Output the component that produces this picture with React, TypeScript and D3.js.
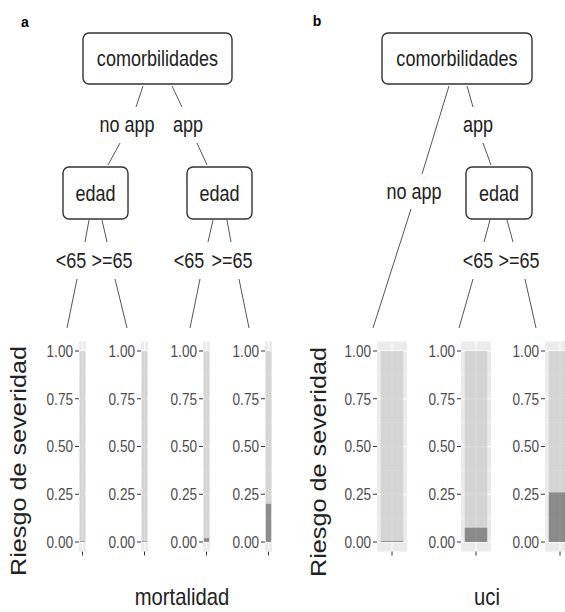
import React from "react";
import * as d3 from "d3";

// tick values shared by every facet
const yTicks = [0, 0.25, 0.5, 0.75, 1];
const yTickLabels = ["0.00", "0.25", "0.50", "0.75", "1.00"];

// terminal nodes and share of severe cases (dark part of the bar)
const mortalidadNodes = ["no app & <65", "no app & >=65", "app & <65", "app & >=65"];
const mortalidadRisk = [0.004, 0.004, 0.02, 0.2];
const uciNodes = ["no app", "app & <65", "app & >=65"];
const uciRisk = [0.005, 0.075, 0.26];

const SANS = "'Liberation Sans', Arial, sans-serif";
const SQUEEZE = 0.82; // no narrow face installed, so squeeze the regular one

// tree layout (boxes, edge labels, edge segments) for each panel
const treeA = {
  boxes: [
    { label: "comorbilidades", x: 83, y: 33, w: 149, h: 51 },
    { label: "edad", x: 63, y: 167, w: 65, h: 52 },
    { label: "edad", x: 187, y: 167, w: 65, h: 52 },
  ],
  labels: [
    { text: "no app", x: 127, y: 124 },
    { text: "app", x: 188, y: 124 },
    { text: "<65", x: 71, y: 260 },
    { text: ">=65", x: 112, y: 260 },
    { text: "<65", x: 189, y: 260 },
    { text: ">=65", x: 232, y: 260 },
  ],
  segs: [
    [143, 86, 136, 107], [172, 86, 182, 107],
    [120, 143, 108, 165], [197, 143, 207, 165],
    [89, 220, 85, 242], [102, 220, 107, 242],
    [213, 220, 208, 242], [227, 220, 231, 242],
    [77, 279, 67, 328], [115, 279, 127, 328],
    [200, 279, 190, 328], [239, 279, 249, 328],
  ],
};

const treeB = {
  boxes: [
    { label: "comorbilidades", x: 382, y: 33, w: 150, h: 51 },
    { label: "edad", x: 466, y: 167, w: 66, h: 52 },
  ],
  labels: [
    { text: "no app", x: 414, y: 191 },
    { text: "app", x: 478, y: 124 },
    { text: "<65", x: 478, y: 260 },
    { text: ">=65", x: 519, y: 260 },
  ],
  segs: [
    [449, 86, 422, 174], [411, 209, 373, 328],
    [467, 86, 473, 107], [483, 143, 491, 165],
    [490, 220, 484, 242], [507, 220, 513, 242],
    [473, 279, 459, 328], [525, 279, 536, 328],
  ],
};

const y = d3.scaleLinear().domain([0, 1]).range([542, 351]);

function NText({ x, y, children, size = 22, anchor = "middle", fill = "#222", sx = SQUEEZE }:
  { x: number; y: number; children: string; size?: number; anchor?: string; fill?: string; sx?: number }) {
  return (
    <text transform={`translate(${x},${y}) scale(${sx},1)`} dy="0.36em" textAnchor={anchor}
      fontFamily={SANS} fontSize={size} fill={fill}>{children}</text>
  );
}

function Tree({ tree }: { tree: typeof treeA }) {
  return (
    <g>
      {tree.segs.map((s, i) => (
        <line key={i} x1={s[0]} y1={s[1]} x2={s[2]} y2={s[3]} stroke="#555" strokeWidth={1} />
      ))}
      {tree.boxes.map((b, i) => (
        <g key={i}>
          <rect x={b.x} y={b.y} width={b.w} height={b.h} rx={6} fill="#fff" stroke="#333" strokeWidth={1.4} />
          <NText x={b.x + b.w / 2} y={b.y + b.h / 2}>{b.label}</NText>
        </g>
      ))}
      {tree.labels.map((l, i) => (
        <NText key={i} x={l.x} y={l.y}>{l.text}</NText>
      ))}
    </g>
  );
}

function Facets({ nodes, risk, first, step, panelW }:
  { nodes: string[]; risk: number[]; first: number; step: number; panelW: number }) {
  const px = d3.scaleLinear().domain([0, 1]).range([first, first + step]);
  const yTop = y(1.05);
  const yBot = y(-0.05);
  const minor = [0.125, 0.375, 0.625, 0.875];
  return (
    <g>
      {nodes.map((n, i) => {
        const x0 = px(i);
        // discrete x scale: one level, 0.6 expansion each side
        const xb = d3.scaleLinear().domain([0.4, 1.6]).range([x0, x0 + panelW]);
        const bx = xb(0.55);
        const bw = xb(1.45) - xb(0.55);
        return (
          <g key={n}>
            <rect x={x0} y={yTop} width={panelW} height={yBot - yTop} fill="#ebebeb" />
            {minor.map((t) => (
              <line key={t} x1={x0} x2={x0 + panelW} y1={y(t)} y2={y(t)} stroke="#fff" strokeWidth={0.5} />
            ))}
            {yTicks.map((t) => (
              <line key={t} x1={x0} x2={x0 + panelW} y1={y(t)} y2={y(t)} stroke="#fff" strokeWidth={1} />
            ))}
            <line x1={xb(1)} x2={xb(1)} y1={yTop} y2={yBot} stroke="#fff" strokeWidth={1} />
            <rect x={bx} y={y(1)} width={bw} height={y(risk[i]) - y(1)} fill="#c4c4c4" opacity={0.6} />
            <rect x={bx} y={y(risk[i])} width={bw} height={y(0) - y(risk[i])} fill="#4a4a4a" opacity={0.6} />
            {yTicks.map((t, k) => (
              <g key={t}>
                <line x1={x0 - 4} x2={x0} y1={y(t)} y2={y(t)} stroke="#333" strokeWidth={1} />
                <NText x={x0 - 6} y={y(t)} size={16} anchor="end" fill="#4d4d4d" sx={0.85}>{yTickLabels[k]}</NText>
              </g>
            ))}
            <line x1={xb(1)} x2={xb(1)} y1={yBot} y2={yBot + 4} stroke="#333" strokeWidth={1} />
          </g>
        );
      })}
    </g>
  );
}

export default function App() {
  return (
    <svg width={565} height={612} style={{ position: "absolute", left: 0, top: 0, background: "#fff" }}>
      <text x={25} y={27} textAnchor="middle" fontFamily={SANS} fontWeight="bold" fontSize={14} fill="#000">a</text>
      <text x={317} y={26} textAnchor="middle" fontFamily={SANS} fontWeight="bold" fontSize={14} fill="#000">b</text>

      <Tree tree={treeA} />
      <Tree tree={treeB} />

      <Facets nodes={mortalidadNodes} risk={mortalidadRisk} first={79} step={62} panelW={7} />
      <Facets nodes={uciNodes} risk={uciRisk} first={377} step={84} panelW={30} />

      <text transform="translate(18,461) rotate(-90)" dy="0.36em" textAnchor="middle" fontFamily={SANS}
        fontSize={22} fill="#222" textLength={230} lengthAdjust="spacingAndGlyphs">Riesgo de severidad</text>
      <text transform="translate(318,462) rotate(-90)" dy="0.36em" textAnchor="middle" fontFamily={SANS}
        fontSize={22} fill="#222" textLength={230} lengthAdjust="spacingAndGlyphs">Riesgo de severidad</text>

      <NText x={182} y={597} size={23} sx={0.88}>mortalidad</NText>
      <NText x={487} y={597} size={23} sx={0.88}>uci</NText>
    </svg>
  );
}
